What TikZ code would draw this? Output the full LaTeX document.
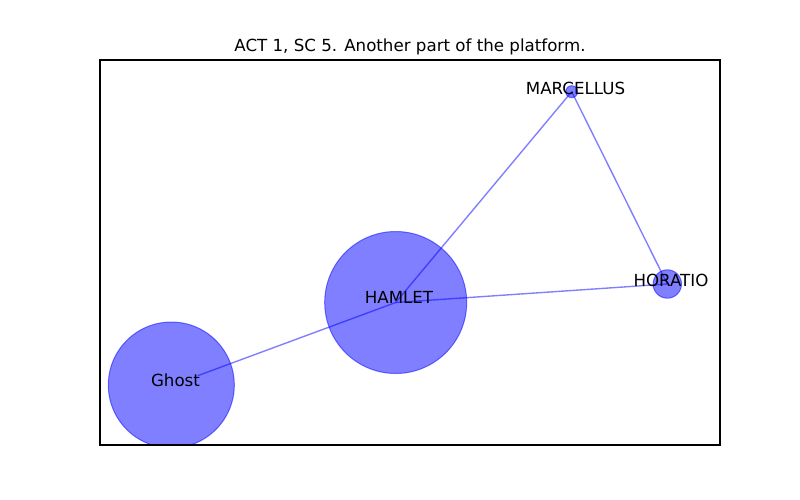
\documentclass[tikz,border=0pt]{standalone}
\usepackage{fontspec}
\setmainfont{DejaVu Sans}
\pgfdeclarelayer{edges}
\pgfsetlayers{edges,main}

\begin{document}
\begin{tikzpicture}[x=0.75bp, y=-0.75bp, every node/.style={font=\fontsize{12.5bp}{15bp}\selectfont, inner sep=0pt},
	actor/.style={circle, fill=blue, draw=blue, opacity=0.5, line width=0.75bp},
	link/.style={blue, opacity=0.5, line width=1.04bp}]
	\useasboundingbox (0,0) rectangle (800,500);
	\node[anchor=base] (title) at (410,51.7) {ACT 1, SC 5. Another part of the platform.};
	\begin{scope}
		\clip (100,60) rectangle (720,445);
		\node[actor, minimum size=106.5bp] (hamlet) at (395.7,302.5) {};
		\node[actor, minimum size=94.5bp] (ghost) at (171.3,385) {};
		\node[actor, minimum size=21.3bp] (horatio) at (667.3,284) {};
		\node[actor, minimum size=9bp] (marcellus) at (571.7,91.7) {};
	\end{scope}
	\coordinate (ghostend) at (197.7,375.7);
	\begin{pgfonlayer}{edges}
		\draw[link] (ghostend) -- (hamlet.center);
		\draw[link] (hamlet.center) -- (marcellus.center);
		\draw[link] (hamlet.center) -- (horatio.center);
		\draw[link] (marcellus.center) -- (horatio.center);
	\end{pgfonlayer}
	\node (hamlet-lbl) at (399,297) {HAMLET};
	\node (ghost-lbl) at (175.5,380) {Ghost};
	\node (horatio-lbl) at (671,280) {HORATIO};
	\node (marcellus-lbl) at (575.5,88) {MARCELLUS};
	\draw[line width=0.83bp] (100,60) rectangle (720,445);
\end{tikzpicture}
\end{document}
